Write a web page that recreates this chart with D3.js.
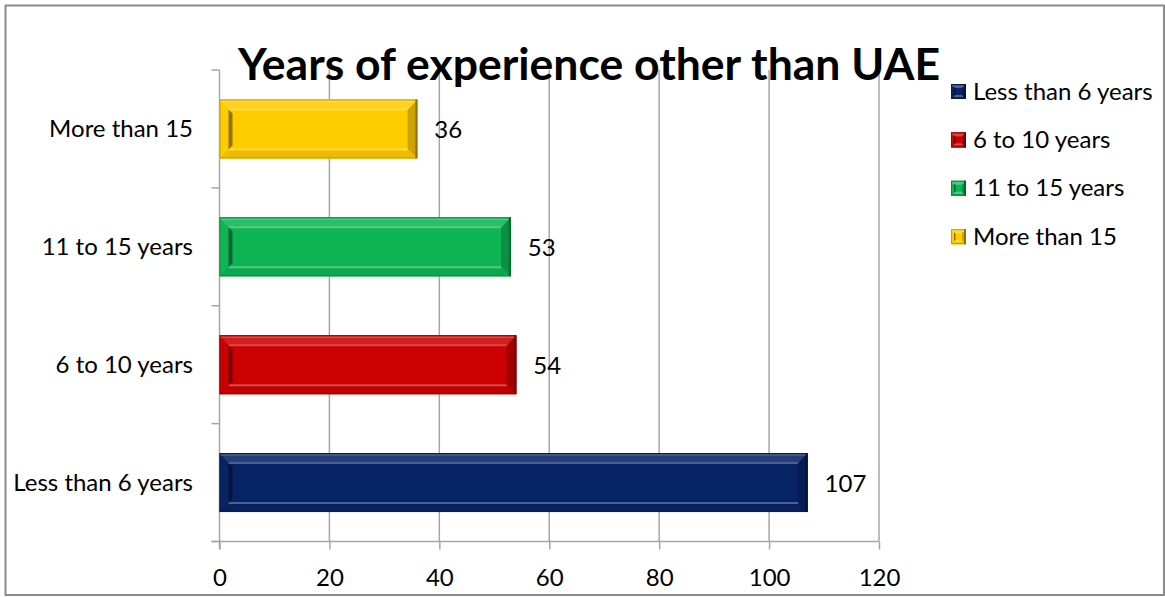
<!DOCTYPE html>
<html>
<head>
<meta charset="utf-8">
<script src="https://cdn.jsdelivr.net/npm/d3@7/dist/d3.min.js"></script>
<style>
  html, body { margin: 0; padding: 0; background: #fff; }
  svg { display: block; }
  text { font-family: Lato, "Open Sans", "Liberation Sans", sans-serif; fill: #000; }
</style>
</head>
<body>
<svg id="chart" width="1165" height="597"></svg>
<script>
// Survey responses: years of experience outside the UAE
const categories = ["Less than 6 years", "6 to 10 years", "11 to 15 years", "More than 15"];
const counts = [107, 54, 53, 36];
const barColors = ["#062466", "#cc0000", "#0db555", "#ffcc00"];
const xTicks = [0, 20, 40, 60, 80, 100, 120];
const chartTitle = "Years of experience other than UAE";

const labelSize = 24;
const svg = d3.select("#chart");

// outer frame
svg.append("rect")
  .attr("x", 5.5).attr("y", 5.5)
  .attr("width", 1158.5).attr("height", 589.5)
  .attr("fill", "#fff").attr("stroke", "#8a8a8a").attr("stroke-width", 2);

const plot = { left: 219.5, right: 879, top: 70, bottom: 541.5 };

const x = d3.scaleLinear().domain([0, 120]).range([plot.left, plot.right]);
const y = d3.scaleBand()
  .domain(categories.slice().reverse())
  .range([plot.top, plot.bottom])
  .paddingInner(0.5).paddingOuter(0.25);

const gridColor = "#a6a6a6";

// vertical gridlines
svg.append("g").selectAll("line")
  .data(xTicks.filter(t => t > 0))
  .join("line")
  .attr("x1", d => x(d)).attr("x2", d => x(d))
  .attr("y1", plot.top).attr("y2", plot.bottom)
  .attr("stroke", gridColor).attr("stroke-width", 1.5);

// x axis
const xAxis = svg.append("g")
  .attr("transform", `translate(0,${plot.bottom})`)
  .call(d3.axisBottom(x).tickValues(xTicks).tickSize(8).tickPadding(19).tickFormat(d3.format("d")));
xAxis.select(".domain").attr("stroke", gridColor).attr("stroke-width", 1.5)
  .attr("d", `M${plot.left - 8},0H${plot.right}`);
xAxis.selectAll(".tick line").attr("stroke", gridColor).attr("stroke-width", 1.5);
xAxis.selectAll(".tick text").attr("font-size", labelSize).attr("fill", "#000")
  .style("font-family", "Lato, sans-serif");

// y axis with tick marks at the band boundaries
const yAxisG = svg.append("g");
yAxisG.append("line")
  .attr("x1", plot.left).attr("x2", plot.left)
  .attr("y1", plot.top).attr("y2", plot.bottom + 8)
  .attr("stroke", gridColor).attr("stroke-width", 1.5);
yAxisG.selectAll("line.tk")
  .data(d3.range(categories.length + 1))
  .join("line").attr("class", "tk")
  .attr("x1", plot.left - 8).attr("x2", plot.left)
  .attr("y1", i => y.range()[0] + i * y.step())
  .attr("y2", i => y.range()[0] + i * y.step())
  .attr("stroke", gridColor).attr("stroke-width", 1.5);
yAxisG.selectAll("text")
  .data(categories)
  .join("text")
  .attr("x", 193)
  .attr("y", d => y(d) + y.bandwidth() / 2 + 8)
  .attr("text-anchor", "end")
  .attr("font-size", labelSize)
  .text(d => d);

// bevelled bars
function bevel(g, x0, y0, w, h, base, inset) {
  const c = d3.color(base);
  const lighter = d3.interpolateRgb(base, "#ffffff")(0.28);
  const dark = c.darker(0.7).formatHex();
  const darker = c.darker(1.6).formatHex();
  const x1 = x0 + w, y1 = y0 + h;
  const il = inset.l, it = inset.t, ir = inset.r, ib = inset.b;
  const sh = inset.s;
  g.append("rect").attr("x", x0).attr("y", y0).attr("width", w).attr("height", h).attr("fill", base);
  // top bevel
  g.append("path").attr("d", `M${x0},${y0}L${x1},${y0}L${x1 - ir},${y0 + it}L${x0 + il},${y0 + it}Z`)
    .attr("fill", d3.interpolateRgb(base, "#ffffff")(0.12));
  // bottom bevel
  g.append("path").attr("d", `M${x0},${y1}L${x1},${y1}L${x1 - ir},${y1 - ib}L${x0 + il},${y1 - ib}Z`)
    .attr("fill", d3.interpolateRgb(base, "#000000")(0.08));
  // right bevel
  g.append("path").attr("d", `M${x1},${y0}L${x1 - ir},${y0 + it}L${x1 - ir},${y1 - ib}L${x1},${y1}Z`)
    .attr("fill", d3.interpolateRgb(base, "#000000")(0.2));
  // highlight line along outer top
  g.append("line").attr("x1", x0 + 1).attr("x2", x1 - 1).attr("y1", y0 + 2).attr("y2", y0 + 2)
    .attr("stroke", lighter).attr("stroke-width", 1.5);
  // inner face edges
  g.append("line").attr("x1", x0 + il).attr("x2", x1 - ir).attr("y1", y0 + it).attr("y2", y0 + it)
    .attr("stroke", lighter).attr("stroke-width", 2);
  g.append("line").attr("x1", x0 + il).attr("x2", x1 - ir).attr("y1", y1 - ib).attr("y2", y1 - ib)
    .attr("stroke", lighter).attr("stroke-width", 2);
  g.append("path").attr("d", `M${x0 + il},${y0 + it}L${x0 + il + sh},${y0 + it + sh}L${x0 + il + sh},${y1 - ib - sh}L${x0 + il},${y1 - ib}Z`)
    .attr("fill", darker);
  g.append("line").attr("x1", x1 - ir).attr("x2", x1 - ir).attr("y1", y0 + it).attr("y2", y1 - ib)
    .attr("stroke", dark).attr("stroke-width", 1.5);
  // outer edge
  g.append("rect").attr("x", x0 + 0.5).attr("y", y0 + 0.5).attr("width", w - 1).attr("height", h - 1)
    .attr("fill", "none").attr("stroke", dark).attr("stroke-width", 1);
  g.append("line").attr("x1", x1 - 1).attr("x2", x1 - 1).attr("y1", y0).attr("y2", y1)
    .attr("stroke", darker).attr("stroke-width", 2);
}

const bars = svg.append("g");
categories.forEach((cat, i) => {
  const g = bars.append("g");
  bevel(g, x(0), y(cat), x(counts[i]) - x(0), y.bandwidth(), barColors[i], { l: 9, t: 10, r: 9, b: 9, s: 4 });
});

// value labels
svg.append("g").selectAll("text")
  .data(categories)
  .join("text")
  .attr("x", (d, i) => x(counts[i]) + 17)
  .attr("y", d => y(d) + y.bandwidth() / 2 + 9)
  .attr("font-size", labelSize)
  .text((d, i) => counts[i]);

// title
svg.append("text")
  .attr("x", 238).attr("y", 80)
  .attr("font-size", 44).attr("font-weight", 700)
  .attr("textLength", 702).attr("lengthAdjust", "spacingAndGlyphs")
  .text(chartTitle);

// legend
const legend = svg.append("g");
categories.forEach((cat, i) => {
  const cy = 91.5 + i * 48.4;
  const g = legend.append("g");
  bevel(g, 951, cy - 7.5, 15, 15, barColors[i], { l: 3, t: 3, r: 3, b: 3, s: 1.5 });
  g.append("text").attr("x", 973).attr("y", cy + 8).attr("font-size", labelSize).text(cat);
});
</script>
</body>
</html>
